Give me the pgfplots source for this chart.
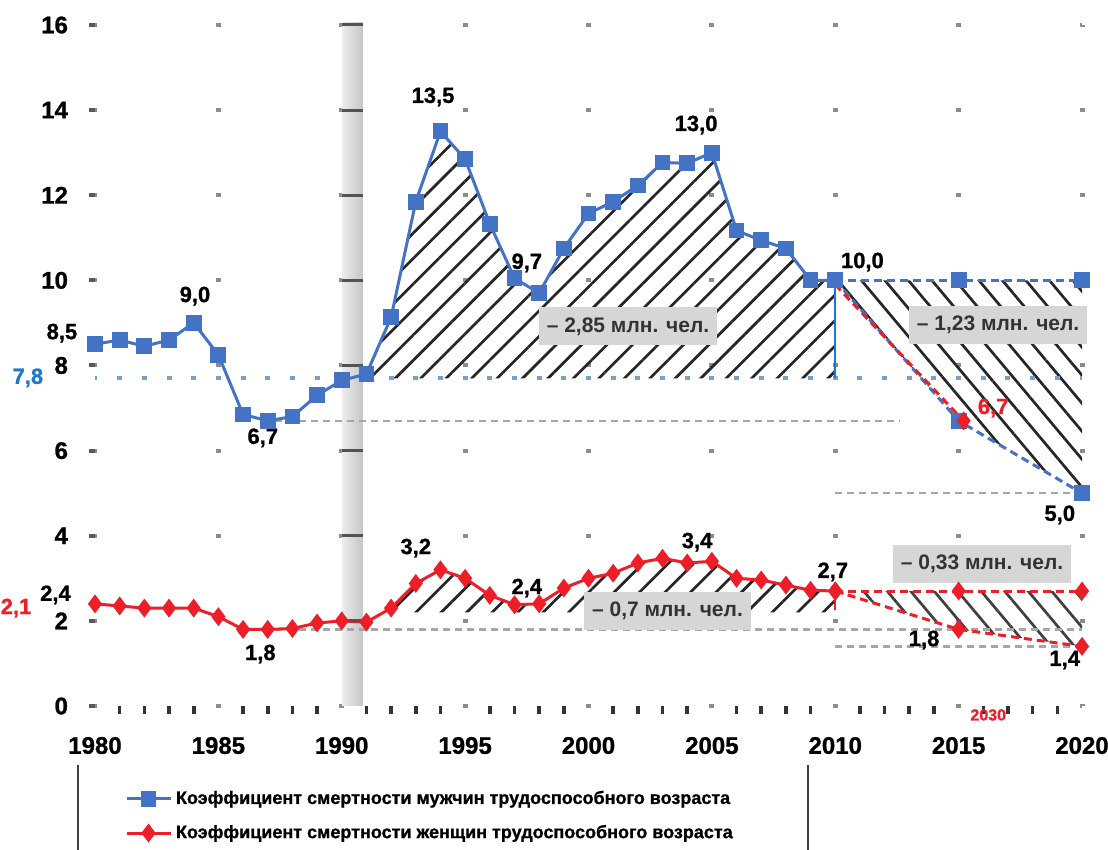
\documentclass[border=0pt]{standalone}
\usepackage{pgfplots}
\pgfplotsset{compat=1.18}
\usepackage{fontspec}
\setmainfont{Liberation Sans}
\newfontfamily\heavy[FakeBold=1.0]{Liberation Sans}
\usetikzlibrary{patterns.meta}

\definecolor{ser1}{RGB}{68,114,196}
\definecolor{ser2}{RGB}{238,30,40}
\definecolor{refgray}{RGB}{166,166,166}
\definecolor{gridgray}{RGB}{140,140,140}
\definecolor{boxgray}{RGB}{214,214,214}
\definecolor{lblue}{RGB}{30,120,200}
\definecolor{baseblue}{RGB}{120,160,205}

\tikzset{
  annot/.style={fill=boxgray, font=\fontsize{10.5}{12}\selectfont\bfseries, text=black!80, inner xsep=4pt, inner ysep=5pt},
  lbl/.style={font=\fontsize{11}{13}\selectfont\heavy\bfseries},
}

% male working-age mortality, per 1000
\pgfplotstableread{
year val
1980 8.5
1981 8.6
1982 8.45
1983 8.6
1984 9.0
1985 8.25
1986 6.85
1987 6.7
1988 6.8
1989 7.3
1990 7.65
1991 7.8
1992 9.13
1993 11.85
1994 13.5
1995 12.85
1996 11.33
1997 10.05
1998 9.7
1999 10.75
2000 11.57
2001 11.85
2002 12.23
2003 12.77
2004 12.75
2005 13.0
2006 11.17
2007 10.94
2008 10.75
2009 10.0
2010 10.0
}\male

% female working-age mortality, per 1000
\pgfplotstableread{
year val
1980 2.4
1981 2.35
1982 2.3
1983 2.3
1984 2.3
1985 2.1
1986 1.8
1987 1.8
1988 1.82
1989 1.95
1990 2.0
1991 1.97
1992 2.3
1993 2.88
1994 3.2
1995 3.0
1996 2.6
1997 2.38
1998 2.4
1999 2.77
2000 3.0
2001 3.12
2002 3.36
2003 3.47
2004 3.36
2005 3.4
2006 3.0
2007 2.96
2008 2.84
2009 2.72
2010 2.7
}\female

\begin{document}
\begin{tikzpicture}
\useasboundingbox (-47.5pt,-72pt) rectangle (506.5pt,353pt);
\begin{axis}[
  at={(0pt,0pt)}, anchor=south west,
  scale only axis, width=493.5pt, height=340.5pt,
  xmin=1980, xmax=2020, ymin=0, ymax=16,
  clip=false,
  axis line style={draw=none},
  xtick={1980,1985,...,2020}, ytick={0,2,...,16},
  minor x tick num=4,
  xtick pos=bottom, ytick pos=left,
  tick align=outside,
  major tick length=3pt, minor tick length=4pt,
  major x tick style={draw=none},
  minor x tick style={black!80, line width=1.8pt},
  ytick style={gray!70!black, line width=2pt},
  grid=major,
  x grid style={gridgray, line width=2.5pt, dash pattern=on 2pt off 40.5625pt, dash phase=1pt},
  y grid style={gridgray, line width=2pt, dash pattern=on 2.5pt off 59.1875pt, dash phase=1.25pt},
  ticklabel style={font=\fontsize{12}{14}\selectfont\heavy\bfseries},
  /pgf/number format/assume math mode=true,
  /pgf/number format/1000 sep={},
  yticklabel style={xshift=-7pt},
  xticklabel style={yshift=-9pt},
  legend style={at={(0.03,-0.118)}, anchor=north west, draw=none, fill=none,
    font=\fontsize{9}{11}\selectfont\heavy\bfseries, row sep=5pt, inner sep=0pt,
    /tikz/every even column/.append style={column sep=2pt}},
  legend cell align=left,
  legend image code/.code={\draw[mark repeat=2,mark phase=2,#1] plot coordinates {(0pt,0pt)(11pt,0pt)(22pt,0pt)};},
]

% 1990 separator column
\addplot[draw=none, left color=gray!14, middle color=white, right color=gray!45, forget plot]
  coordinates {(1990,0)(1990,16.05)(1990.85,16.05)(1990.85,0)};
\addplot[only marks, mark=-, mark size=5.3pt, mark options={line width=1.5pt, draw=gray!65!black}, forget plot]
  coordinates {(1990.43,2)(1990.43,4)(1990.43,6)(1990.43,8)(1990.43,10)(1990.43,12)(1990.43,14)(1990.43,16)};

% hatched areas
\addplot[draw=none, pattern={Lines[angle=45, distance=9pt, line width=1.35pt]}, pattern color=black!85, forget plot]
  coordinates {(1991,7.7)(1991,7.8)(1992,9.13)(1993,11.85)(1994,13.5)(1995,12.85)(1996,11.33)(1997,10.05)(1998,9.7)(1999,10.75)(2000,11.57)(2001,11.85)(2002,12.23)(2003,12.77)(2004,12.75)(2005,13.0)(2006,11.17)(2007,10.94)(2008,10.75)(2009,10.0)(2010,10.0)(2010,7.7)};
\addplot[draw=none, pattern={Lines[angle=-50, distance=9pt, line width=1.35pt]}, pattern color=black!85, forget plot]
  coordinates {(2010,10)(2015,10)(2020,10)(2020,5.0)(2015,6.7)};
\addplot[draw=none, pattern={Lines[angle=45, distance=9pt, line width=1.35pt]}, pattern color=black!85, forget plot]
  coordinates {(1991.7,2.2)(1992,2.3)(1993,2.88)(1994,3.2)(1995,3.0)(1996,2.6)(1997,2.38)(1998,2.4)(1999,2.77)(2000,3.0)(2001,3.12)(2002,3.36)(2003,3.47)(2004,3.36)(2005,3.4)(2006,3.0)(2007,2.96)(2008,2.84)(2009,2.72)(2010,2.7)(2010,2.2)};
\addplot[draw=none, pattern={Lines[angle=-50, distance=9pt, line width=1.35pt]}, pattern color=black!75, forget plot]
  coordinates {(2010,2.7)(2015,2.7)(2020,2.7)(2020,1.4)(2015,1.8)};

% reference levels
\addplot[baseblue, line width=2pt, dash pattern=on 2.5pt off 9.8375pt, dash phase=1.25pt, forget plot]
  coordinates {(1980,7.7)(2020,7.7)};
\addplot[refgray, line width=1.2pt, dash pattern=on 3.5pt off 2.5pt, forget plot]
  coordinates {(1986.8,6.7)(2012.6,6.7)};
\addplot[refgray, line width=1.2pt, dash pattern=on 3.5pt off 2.5pt, forget plot]
  coordinates {(2010,5.0)(2020,5.0)};
\addplot[refgray, line width=1.2pt, dash pattern=on 3.5pt off 2.5pt, forget plot]
  coordinates {(1986.8,1.8)(2020,1.8)};
\addplot[refgray, line width=1.2pt, dash pattern=on 3.5pt off 2.5pt, forget plot]
  coordinates {(2010,1.4)(2020,1.4)};
\addplot[lblue, line width=1pt, forget plot] coordinates {(2010,10)(2010,7.7)};
\addplot[ser2, line width=1pt, forget plot] coordinates {(2010,2.7)(2010,2.25)};

% forecasts to 2020
\addplot[ser1, line width=1.5pt, dash pattern=on 4pt off 2.5pt, mark=square*, mark size=3.2pt, mark options={solid}, forget plot]
  coordinates {(2010,10.0)(2015,10.0)(2020,10.0)};
\addplot[ser1, line width=1.5pt, dash pattern=on 4pt off 2.5pt, mark=square*, mark size=3.2pt, mark options={solid}, forget plot]
  coordinates {(2010,10.0)(2015,6.7)(2020,5.0)};
\addplot[ser2, line width=1.5pt, dash pattern=on 4pt off 2.5pt, mark=diamond*, mark size=3.5pt, mark options={solid}, mark indices={2}, forget plot]
  coordinates {(2010,9.9)(2015.2,6.7)};
\addplot[ser2, line width=1.5pt, dash pattern=on 4pt off 2.5pt, mark=diamond*, mark size=3.5pt, mark options={solid}, forget plot]
  coordinates {(2010,2.7)(2015,2.7)(2020,2.7)};
\addplot[ser2, line width=1.5pt, dash pattern=on 4pt off 2.5pt, mark=diamond*, mark size=3.5pt, mark options={solid}, forget plot]
  coordinates {(2010,2.7)(2015,1.8)(2020,1.4)};

% observed series
\addplot[ser1, line width=1.5pt, mark=square*, mark size=3.2pt] table[x=year, y=val] {\male};
\addlegendentry{Коэффициент смертности мужчин трудоспособного возраста}
\addplot[ser2, line width=1.5pt, mark=diamond*, mark size=3.5pt] table[x=year, y=val] {\female};
\addlegendentry{Коэффициент смертности женщин трудоспособного возраста}

% value labels
\node[lbl] at (axis cs:1978.66,8.76) {8,5};
\node[lbl, text=lblue] at (axis cs:1977.28,7.71) {7,8};
\node[lbl] at (axis cs:1984.05,9.63) {9,0};
\node[lbl] at (axis cs:1986.8,6.30) {6,7};
\node[lbl] at (axis cs:1993.7,14.31) {13,5};
\node[lbl] at (axis cs:1997.5,10.41) {9,7};
\node[lbl] at (axis cs:2004.36,13.65) {13,0};
\node[lbl] at (axis cs:2011.1,10.43) {10,0};
\node[lbl, text=ser2] at (axis cs:2016.4,7.0) {6,7};
\node[lbl] at (axis cs:2019.1,4.49) {5,0};
\node[lbl] at (axis cs:1978.4,2.61) {2,4};
\node[lbl, text=ser2] at (axis cs:1976.8,2.30) {2,1};
\node[lbl] at (axis cs:1986.7,1.22) {1,8};
\node[lbl] at (axis cs:1993.0,3.71) {3,2};
\node[lbl] at (axis cs:1997.5,2.77) {2,4};
\node[lbl] at (axis cs:2004.4,3.85) {3,4};
\node[lbl] at (axis cs:2009.9,3.15) {2,7};
\node[lbl] at (axis cs:2013.6,1.55) {1,8};
\node[lbl] at (axis cs:2019.3,1.08) {1,4};
\node[font=\fontsize{8}{9}\selectfont\heavy\bfseries, text=ser2] at (axis cs:2016.2,-0.21) {2030};

% population loss notes
\node[annot] at (axis cs:2001.6,8.92) {– 2,85 млн. чел.};
\node[annot] at (axis cs:2016.6,8.95) {– 1,23 млн. чел.};
\node[annot] at (axis cs:2003.2,2.23) {– 0,7 млн. чел.};
\node[annot] at (axis cs:2015.95,3.33) {– 0,33 млн. чел.};

% legend frame sides
\draw[black!75, line width=1.3pt] (rel axis cs:-0.0172,-0.0866) -- (rel axis cs:-0.0172,-0.25);
\draw[black!75, line width=1.3pt] (rel axis cs:0.7224,-0.0866) -- (rel axis cs:0.7224,-0.25);
\end{axis}
\end{tikzpicture}
\end{document}
